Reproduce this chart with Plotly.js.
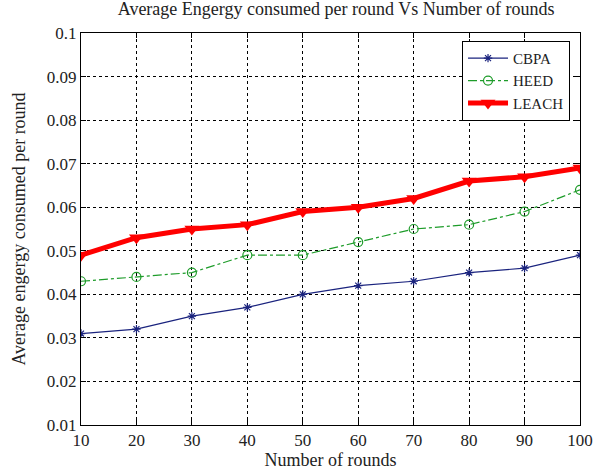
<!DOCTYPE html>
<html><head><meta charset="utf-8">
<script src="https://cdn.plot.ly/plotly-3.0.1.min.js"></script>
<style>body{margin:0;background:#fff}#chart{width:595px;height:471px}</style>
</head><body><div id="chart"></div>
<script>
const rounds = [10, 20, 30, 40, 50, 60, 70, 80, 90, 100];
const cbpa  = [0.031, 0.032, 0.035, 0.037, 0.040, 0.042, 0.043, 0.045, 0.046, 0.049];
const heed  = [0.043, 0.044, 0.045, 0.049, 0.049, 0.052, 0.055, 0.056, 0.059, 0.064];
const leach = [0.049, 0.053, 0.055, 0.056, 0.059, 0.060, 0.062, 0.066, 0.067, 0.069];
const yTicks = [0.01, 0.02, 0.03, 0.04, 0.05, 0.06, 0.07, 0.08, 0.09, 0.1];
const yTickText = ['0.01','0.02','0.03','0.04','0.05','0.06','0.07','0.08','0.09','0.1'];

const fam = 'Liberation Serif, Times New Roman, serif';
const tickFont = {family: fam, size: 17, color: '#222'};
const titleFont = {family: fam, size: 18, color: '#222'};
const traces = [
  {x: rounds, y: cbpa, name: 'CBPA', mode: 'lines+markers',
   line: {color: '#1a237e', width: 1.2},
   marker: {symbol: 'asterisk-open', size: 7, color: '#1a237e', line: {color: '#1a237e', width: 1.2}}},
  {x: rounds, y: heed, name: 'HEED', mode: 'lines+markers',
   line: {color: '#1e9c2a', width: 1.2, dash: 'dashdot'},
   marker: {symbol: 'circle-open', size: 9, color: '#1e9c2a', line: {color: '#1e9c2a', width: 1.2}}},
  {x: rounds, y: leach, name: 'LEACH', mode: 'lines+markers',
   line: {color: '#ff0000', width: 5},
   marker: {symbol: 'triangle-down', size: 13, color: '#ff0000'}}
];
const axisCommon = {
  showline: true, linecolor: '#000', linewidth: 1, mirror: 'ticks',
  ticks: 'inside', ticklen: 5, tickcolor: '#000',
  showgrid: true, gridcolor: '#000', gridwidth: 1, griddash: 'dot',
  zeroline: false, tickfont: tickFont
};
const layout = {
  width: 595, height: 471,
  margin: {l: 81, r: 15, t: 33, b: 46},
  paper_bgcolor: '#fff', plot_bgcolor: '#fff',
  font: tickFont,
  title: {text: 'Average Engergy consumed per round Vs Number of rounds', font: titleFont, x: 0.565, xanchor: 'center', y: 0.995, yanchor: 'top'},
  xaxis: Object.assign({}, axisCommon, {range: [10, 100], tickvals: rounds, ticktext: rounds.map(String),
    title: {text: 'Number of rounds', font: titleFont, standoff: 0}}),
  yaxis: Object.assign({}, axisCommon, {range: [0.01, 0.1], tickvals: yTicks, ticktext: yTickText,
    title: {text: 'Average engergy consumed per round', font: titleFont, standoff: 16}}),
  showlegend: true,
  legend: {x: 0.98, xanchor: 'right', y: 0.98, yanchor: 'top', bgcolor: '#fff', bordercolor: '#000', borderwidth: 1,
    font: {family: fam, size: 15, color: '#222'}, tracegroupgap: 0, itemwidth: 40}
};
Plotly.newPlot('chart', traces, layout, {displayModeBar: false});
</script></body></html>
